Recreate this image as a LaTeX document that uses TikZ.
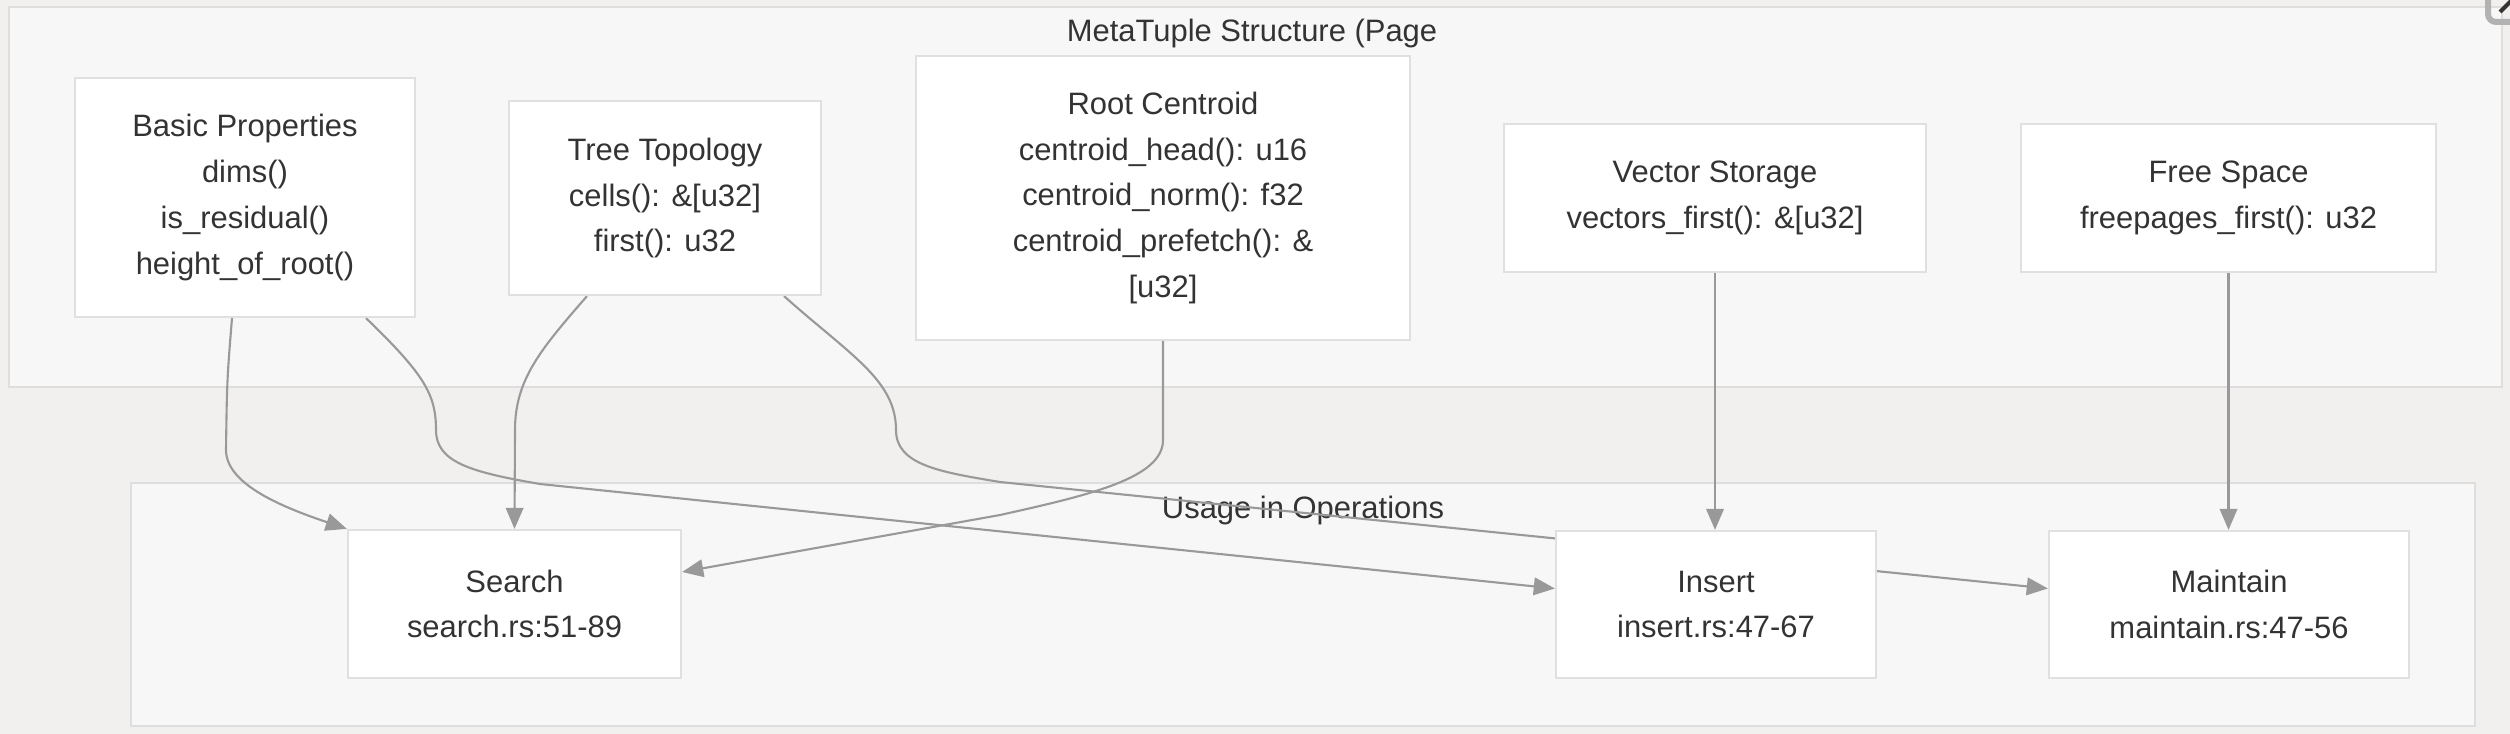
\documentclass[tikz,border=0pt]{standalone}
\usepackage{fontspec}
\setmainfont{Liberation Sans}
\usetikzlibrary{arrows.meta,calc}
\definecolor{pagebg}{HTML}{F1F0EF}
\definecolor{clusterbg}{HTML}{F7F7F7}
\definecolor{clusterline}{HTML}{DEDEDE}
\definecolor{boxline}{HTML}{E0E0E0}
\definecolor{linkgray}{HTML}{999999}
\definecolor{textgray}{HTML}{333333}
\pgfdeclarelayer{back}
\pgfsetlayers{back,main}
\tikzset{
	box/.style={draw=boxline, line width=0.6pt, fill=white, align=center, text=textgray, font=\fontsize{8.8}{13}\selectfont, inner sep=0pt},
	cluster/.style={draw=clusterline, line width=0.6pt, fill=clusterbg},
	clustertitle/.style={text=textgray, font=\fontsize{8.8}{13}\selectfont},
	link/.style={draw=linkgray, line width=0.6pt, -{Triangle[length=6pt,width=5pt]}}
}

\begin{document}
\begin{tikzpicture}[x=0.01cm,y=-0.01cm]
				\useasboundingbox (0,0) rectangle (2510,734);
				\begin{pgfonlayer}{back}
					\fill[pagebg] (0,0) rectangle (2510,734);
					\draw[cluster] (9,7) rectangle (2502,387);
					\draw[cluster] (131,483) rectangle (2475,726);
					\node[clustertitle] (metatitle) at (1252,34) {MetaTuple Structure (Page};
					\node[clustertitle] (usagetitle) at (1303,510) {Usage in Operations};
				\end{pgfonlayer}
				
				\node[box, minimum width=3.39cm, minimum height=2.39cm] (basic) at (245,197.5) {Basic Properties\\dims()\\is\_residual()\\height\_of\_root()};
				\node[box, minimum width=3.12cm, minimum height=1.94cm] (tree) at (665,198) {Tree Topology\\cells(): \&[u32]\\first(): u32};
				\node[box, minimum width=4.94cm, minimum height=2.84cm] (root) at (1163,198) {Root Centroid\\centroid\_head(): u16\\centroid\_norm(): f32\\centroid\_prefetch(): \&\\{[u32]}};
				\node[box, minimum width=4.22cm, minimum height=1.48cm] (vector) at (1715,198) {Vector Storage\\vectors\_first(): \&[u32]};
				\node[box, minimum width=4.15cm, minimum height=1.48cm] (free) at (2228.5,198) {Free Space\\freepages\_first(): u32};
				
				\node[box, minimum width=3.33cm, minimum height=1.48cm] (search) at (514.5,604) {Search\\search.rs:51-89};
				\node[box, minimum width=3.20cm, minimum height=1.47cm] (insert) at (1716,604.5) {Insert\\insert.rs:47-67};
				\node[box, minimum width=3.60cm, minimum height=1.47cm] (maintain) at (2229,604.5) {Maintain\\maintain.rs:47-56};
				
				% links run under the boxes
				\begin{pgfonlayer}{back}
					\draw[link] ($(basic.south)+(-13,0)$) .. controls (227,380) .. (226,450) .. controls (226,485) and (285,508) .. (search.north west);
					\draw[link] ($(basic.south)+(121,0)$) .. controls (425,375) and (436,395) .. (436,430) .. controls (436,462) and (470,472) .. (540,484) -- ($(insert.west)+(0,-16)$);
					\draw[link] ($(tree.south)+(-78,0)$) .. controls (540,350) and (515,380) .. (515,430) -- (search.north);
					\draw[link] ($(tree.south)+(119,0)$) .. controls (850,355) and (896,380) .. (896,430) .. controls (896,465) and (940,472) .. (1000,482) -- ($(maintain.west)+(0,-16)$);
					\draw[link] (root.south) -- (1163,440) .. controls (1163,478) and (1090,495) .. (1000,515) -- ($(search.east)+(0,-32)$);
					\draw[link] (vector.south) -- (vector.south |- insert.north);
					\draw[link] (free.south) -- (free.south |- maintain.north);
				\end{pgfonlayer}
				
				\begin{scope}
					\clip (0,0) rectangle (2510,734);
					\draw[draw=black!30, line width=0.6mm, rounded corners=0.08cm] (2488,22) rectangle (2560,-40);
					\draw[textgray, line width=0.4mm] (2500,12) -- (2514,-2);
				\end{scope}
			\end{tikzpicture}
\end{document}
